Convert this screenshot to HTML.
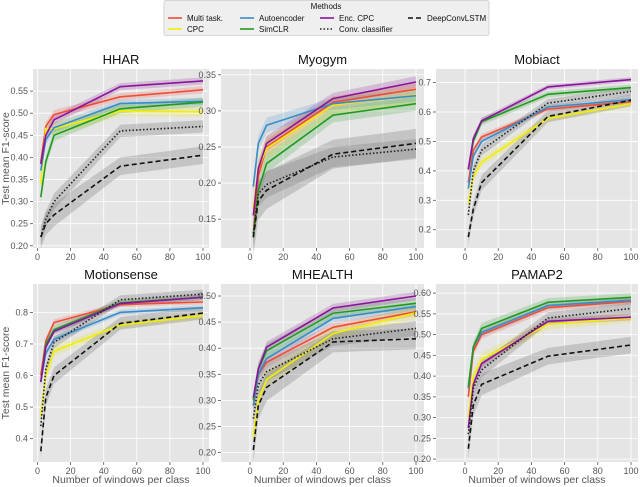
<!DOCTYPE html>
<html><head><meta charset="utf-8"><style>
body{margin:0;background:#fff;font-family:"Liberation Sans","DejaVu Sans",sans-serif}
svg{display:block}
</style></head><body>
<svg id="chart" width="640" height="487" viewBox="0 0 640 487"></svg>
<script>
const xs=[2,5,10,50,100];
const xTicks=[0,20,40,60,80,100];
const seriesNames=["Multi task.","CPC","Autoencoder","SimCLR","Enc. CPC","Conv. classifier","DeepConvLSTM"];
const hharVals=[[0.39,0.47,0.497,0.537,0.553],[0.34,0.465,0.465,0.505,0.503],[0.37,0.44,0.467,0.522,0.527],[0.31,0.39,0.45,0.51,0.525],[0.385,0.45,0.485,0.56,0.573],[0.22,0.26,0.30,0.46,0.47],[0.22,0.25,0.27,0.38,0.405]];
const myogymVals=[[0.13,0.21,0.25,0.312,0.33],[0.165,0.22,0.248,0.308,0.322],[0.195,0.255,0.28,0.31,0.321],[0.125,0.19,0.227,0.294,0.31],[0.155,0.22,0.255,0.317,0.34],[0.13,0.185,0.198,0.236,0.247],[0.125,0.175,0.19,0.24,0.255]];
const mobiactVals=[[0.36,0.47,0.515,0.61,0.635],[0.29,0.38,0.43,0.578,0.628],[0.34,0.45,0.50,0.617,0.642],[0.405,0.50,0.567,0.66,0.683],[0.405,0.51,0.57,0.685,0.71],[0.25,0.40,0.47,0.63,0.67],[0.175,0.27,0.36,0.585,0.64]];
const motionVals=[[0.60,0.71,0.768,0.825,0.833],[0.47,0.60,0.677,0.76,0.79],[0.58,0.67,0.715,0.80,0.815],[0.58,0.70,0.745,0.83,0.848],[0.58,0.69,0.74,0.828,0.848],[0.44,0.62,0.705,0.84,0.858],[0.36,0.53,0.60,0.765,0.798]];
const mhealthVals=[[0.29,0.35,0.373,0.44,0.47],[0.23,0.30,0.34,0.428,0.468],[0.29,0.35,0.38,0.457,0.48],[0.30,0.36,0.395,0.467,0.486],[0.305,0.36,0.402,0.477,0.50],[0.265,0.33,0.355,0.418,0.438],[0.205,0.29,0.325,0.412,0.418]];
const pamapVals=[[0.35,0.46,0.50,0.565,0.58],[0.30,0.40,0.44,0.525,0.54],[0.37,0.47,0.505,0.57,0.583],[0.375,0.47,0.515,0.578,0.59],[0.275,0.38,0.43,0.532,0.542],[0.26,0.37,0.415,0.54,0.563],[0.225,0.33,0.38,0.448,0.475]];
const hharTicks=[0.20,0.25,0.30,0.35,0.40,0.45,0.50,0.55];
const myogymTicks=[0.15,0.20,0.25,0.30,0.35];
const mobiactTicks=[0.2,0.3,0.4,0.5,0.6,0.7];
const motionTicks=[0.4,0.5,0.6,0.7,0.8];
const mhealthTicks=[0.20,0.25,0.30,0.35,0.40,0.45,0.50];
const pamapTicks=[0.20,0.25,0.30,0.35,0.40,0.45,0.50,0.55,0.60];

const colors=["#ee4d38","#f2ef00","#3b8bc6","#1f9a1f","#8a149a","#222","#111"];
const dashes=["","","","","","1.5,2","5,3"];
const bandW=[0.008,0.012,0.008,0.01,0.008,0.014,0.02];
const bandCol=["#ee4d38","#e8e600","#3b8bc6","#1f9a1f","#8a149a","#777","#777"];
const NS="http://www.w3.org/2000/svg";
const svg=document.getElementById('chart');
function el(t,a,p){const e=document.createElementNS(NS,t);for(const k in a)e.setAttribute(k,a[k]);(p||svg).appendChild(e);return e;}

const panels=[
 {title:"HHAR",vals:hharVals,ticks:hharTicks,dec:2,x0:33,x1:209,y0:69,y1:248,ymin:0.195,ymax:0.60},
 {title:"Myogym",vals:myogymVals,ticks:myogymTicks,dec:2,x0:221,x1:424,y0:69,y1:248,ymin:0.11,ymax:0.358},
 {title:"Mobiact",vals:mobiactVals,ticks:mobiactTicks,dec:1,x0:436,x1:638,y0:69,y1:248,ymin:0.138,ymax:0.746},
 {title:"Motionsense",vals:motionVals,ticks:motionTicks,dec:1,x0:33,x1:209,y0:284,y1:462,ymin:0.326,ymax:0.89},
 {title:"MHEALTH",vals:mhealthVals,ticks:mhealthTicks,dec:2,x0:221,x1:424,y0:284,y1:462,ymin:0.182,ymax:0.523},
 {title:"PAMAP2",vals:pamapVals,ticks:pamapTicks,dec:2,x0:436,x1:638,y0:284,y1:462,ymin:0.193,ymax:0.622}
];
const xAx0=[37.5,250,465], xAx1=[203,416,631];
panels.forEach((p,i)=>{
 const col=i%3, row=Math.floor(i/3);
 const g=el('g',{});
 
 
 const xa=xAx0[col], xb=xAx1[col];
 const X=v=>xa+(xb-xa)*v/100;
 const Y=v=>p.y1-(p.y1-p.y0)*(v-p.ymin)/(p.ymax-p.ymin);
 const bg=el('rect',{x:p.x0,y:p.y0,width:p.x1-p.x0,height:p.y1-p.y0,fill:'#e5e5e5'},g);
 
 
 xTicks.forEach(t=>{
  el('line',{x1:X(t),x2:X(t),y1:p.y0,y2:p.y1,stroke:'#fff','stroke-width':0.8},g);
  el('line',{x1:X(t),x2:X(t),y1:p.y1,y2:p.y1+3,stroke:'#555','stroke-width':0.8},g);
  const tx=el('text',{x:X(t),y:p.y1+12,'font-size':9,fill:'#555','text-anchor':'middle'},g);
  tx.textContent=t;
  
  
 });
 p.ticks.forEach(t=>{
  el('line',{x1:p.x0,x2:p.x1,y1:Y(t),y2:Y(t),stroke:'#fff','stroke-width':0.8},g);
  el('line',{x1:p.x0-3,x2:p.x0,y1:Y(t),y2:Y(t),stroke:'#555','stroke-width':0.8},g);
  const tx=el('text',{x:p.x0-5,y:Y(t)+3,'font-size':9,fill:'#555','text-anchor':'end'},g);
  tx.textContent=t.toFixed(p.dec);
  
  
 });
 const ti=el('text',{x:(p.x0+p.x1)/2,y:p.y0-5,'font-size':13,fill:'#111','text-anchor':'middle'},g);
 ti.textContent=p.title;
 
 
 // bands
 p.vals.forEach((v,s)=>{
  let d='';
  xs.forEach((x,k)=>{d+=(k?'L':'M')+X(x)+','+Y(v[k]+bandW[s]*(k<3?1.3:1));});
  for(let k=xs.length-1;k>=0;k--)d+='L'+X(xs[k])+','+Y(v[k]-bandW[s]*(k<3?1.3:1));
  const b=el('path',{d:d+'Z',fill:bandCol[s],'fill-opacity':s>=5?0.3:0.2,stroke:'none'},g);
  
  
 });
 p.vals.forEach((v,s)=>{
  const pts=xs.map((x,k)=>X(x)+','+Y(v[k])).join(' ');
  const l=el('polyline',{points:pts,fill:'none',stroke:colors[s],'stroke-width':1.6,'stroke-dasharray':dashes[s]},g);
  
  
 });
 if(row===1){
  const xl=el('text',{x:(p.x0+p.x1)/2,y:483,'font-size':10.5,fill:'#555','text-anchor':'middle'},g);
  xl.textContent='Number of windows per class';
  
  
 }
 if(col===0){
  const cy=(p.y0+p.y1)/2;
  const yl=el('text',{x:9,y:cy,'font-size':10.5,fill:'#555','text-anchor':'middle',transform:'rotate(-90 9 '+cy+')'},g);
  yl.textContent='Test mean F1-score';
  
  
 }
});
// legend
const lg=el('g',{});


el('rect',{x:164,y:0.5,width:325,height:35,fill:'#efefef',stroke:'#ccc','stroke-width':0.8,rx:2},lg);
const lt=el('text',{x:326,y:9,'font-size':8,fill:'#111','text-anchor':'middle'},lg);
lt.textContent='Methods';


const legPos=[[168,18],[168,29],[240,18],[240,29],[320,18],[320,29],[408,18]];
seriesNames.forEach((n,s)=>{
 const [lx,ly]=legPos[s];
 const e=el('g',{},lg);
 
 
 el('line',{x1:lx,x2:lx+14,y1:ly,y2:ly,stroke:colors[s],'stroke-width':1.6,'stroke-dasharray':dashes[s]},e);
 const t=el('text',{x:lx+19,y:ly+3,'font-size':8,fill:'#111'},e);
 t.textContent=n;
});
</script>
</body></html>
